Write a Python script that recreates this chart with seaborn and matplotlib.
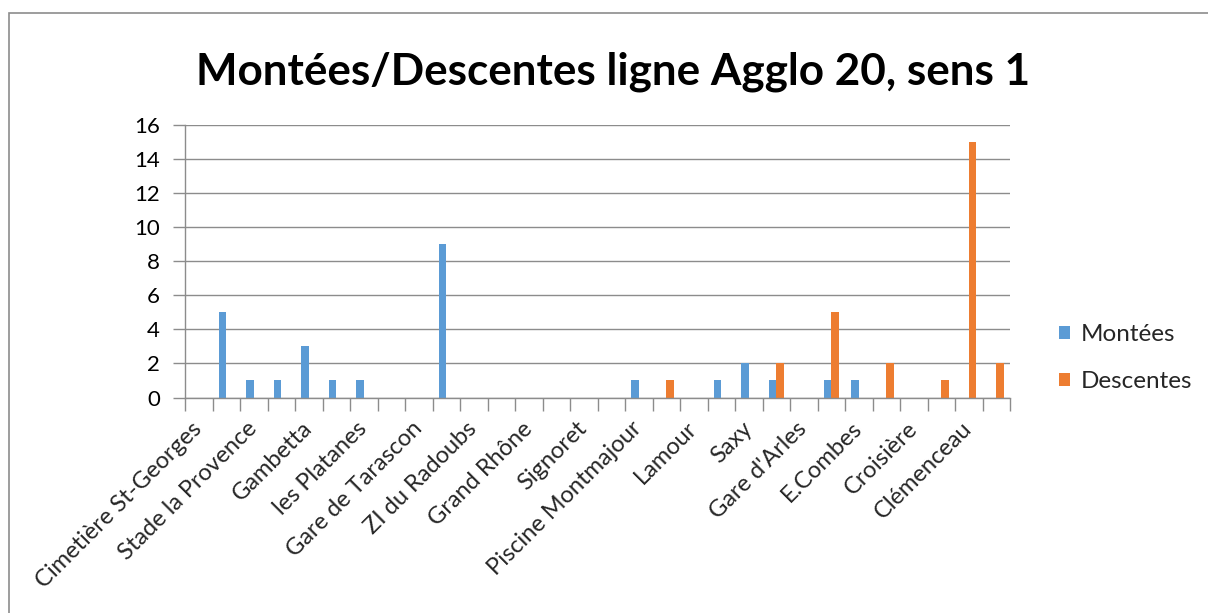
import matplotlib
matplotlib.use("Agg")
import matplotlib.pyplot as plt
from matplotlib.patches import Rectangle, Patch
import numpy as np
import pandas as pd
import seaborn as sns

# Stops along the line (30 stops, every other one is labelled on the axis)
stop_labels = [
    "Cimetière St-Georges", "Stade la Provence", "Gambetta", "les Platanes",
    "Gare de Tarascon", "ZI du Radoubs", "Grand Rhône", "Signoret",
    "Piscine Montmajour", "Lamour", "Saxy", "Gare d'Arles", "E.Combes",
    "Croisière", "Clémenceau",
]
n_stops = 30
montees = [0, 5, 1, 1, 3, 1, 1, 0, 0, 9, 0, 0, 0, 0, 0,
           0, 1, 0, 0, 1, 2, 1, 0, 1, 1, 0, 0, 0, 0, 0]
descentes = [0, 0, 0, 0, 0, 0, 0, 0, 0, 0, 0, 0, 0, 0, 0,
             0, 0, 1, 0, 0, 0, 2, 0, 5, 0, 2, 0, 1, 15, 2]
series_names = ["Montées", "Descentes"]
colors = ["#5B9BD5", "#ED7D31"]
title = "Montées/Descentes ligne Agglo 20, sens 1"

df = pd.DataFrame({
    "stop": list(range(n_stops)) * 2,
    "series": [series_names[0]] * n_stops + [series_names[1]] * n_stops,
    "value": montees + descentes,
})

sns.set_style("white")
plt.rcParams["font.family"] = ["Lato", "DejaVu Sans"]

W, H = 1208, 613
fig = plt.figure(figsize=(W / 100, H / 100), dpi=100)
ax = fig.add_axes([185 / W, 1 - 397.5 / H, (1010 - 185) / W, (397.5 - 125) / H])

sns.barplot(data=df, x="stop", y="value", hue="series", palette=colors,
            width=0.55, ax=ax, legend=False, linewidth=0, saturation=1)

grid_c = "#8C8C8C"
ax.set_xlim(-0.5, n_stops - 0.5)
ax.set_ylim(0, 16)
ax.set_yticks(np.arange(0, 17, 2))
ax.yaxis.grid(True, color=grid_c, linewidth=1)
ax.set_axisbelow(True)
for s in ["top", "right"]:
    ax.spines[s].set_visible(False)
for s in ["left", "bottom"]:
    ax.spines[s].set_color(grid_c)
    ax.spines[s].set_linewidth(1)

ax.tick_params(axis="y", length=9, width=1, color=grid_c, labelsize=16,
               labelcolor="black", pad=9, left=True)
ax.set_xlabel("")
ax.set_ylabel("")

# category boundary tick marks and labels on every other stop
ax.set_xticks(np.arange(-0.5, n_stops, 1.0), minor=True)
ax.set_xticks(np.arange(0, n_stops, 2))
ax.set_xticklabels(stop_labels, rotation=45, ha="right", va="center",
                   rotation_mode="anchor", fontsize=17)
ax.tick_params(axis="x", which="major", length=0, pad=20)
ax.tick_params(axis="x", which="minor", length=9, width=1, color=grid_c,
               bottom=True)

handles = [Patch(facecolor=c, edgecolor="none") for c in colors]
fig.legend(handles, series_names, loc="center left",
           bbox_to_anchor=(1059 / W, 1 - 358 / H), frameon=False,
           fontsize=17.5, handlelength=0.45, handleheight=0.45,
           handletextpad=0.45, labelspacing=1.05, borderpad=0, borderaxespad=0)

fig.text(613 / W, 1 - 85 / H, title, ha="center", va="baseline",
         fontsize=31.7, fontweight="bold", color="black")

fig.patches.append(Rectangle((8.5 / W, -0.1), 1.2, 1.1 - 13.5 / H,
                             transform=fig.transFigure, fill=False,
                             edgecolor="#8C8C8C", linewidth=1.2))

fig.savefig("out.png", dpi=100)
